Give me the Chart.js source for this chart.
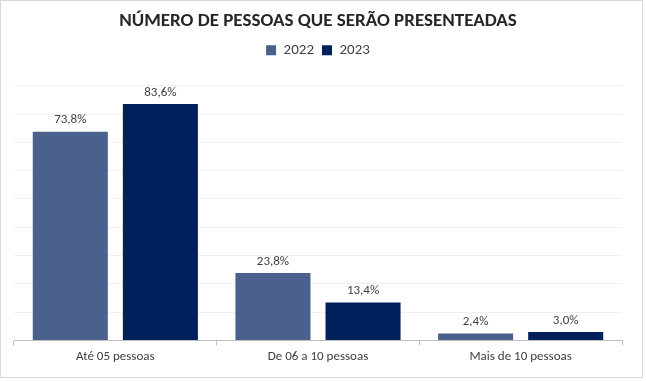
<!DOCTYPE html>
<html><head><meta charset="utf-8">
<script src="https://cdn.jsdelivr.net/npm/chart.js@4/dist/chart.umd.min.js"></script>
<style>
html,body{margin:0;padding:0;background:#fff;}
#wrap{position:absolute;left:0;top:0;width:641px;height:376px;border:1px solid #d9d9d9;background:#fff;}
canvas{display:block;}
</style></head>
<body>
<div id="wrap"><canvas id="c" width="641" height="376"></canvas></div>
<script>
const categories = ["Até 05 pessoas", "De 06 a 10 pessoas", "Mais de 10 pessoas"];
const seriesNames = ["2022", "2023"];
const values2022 = [73.8, 23.8, 2.4];
const values2023 = [83.6, 13.4, 3.0];
const yMin = 0, yMax = 90, yStep = 10;
const titleText = "NÚMERO DE PESSOAS QUE SERÃO PRESENTEADAS";

const FONT = "Carlito, Lato, 'Liberation Sans', sans-serif";
const fmt = v => v.toFixed(1).replace('.', ',') + '%';

const labelPlugin = {
  id: 'barLabels',
  afterDatasetsDraw(chart) {
    const ctx = chart.ctx;
    ctx.save();
    ctx.font = "13px " + FONT;
    ctx.fillStyle = "#404040";
    ctx.textAlign = "center";
    ctx.textBaseline = "bottom";
    chart.data.datasets.forEach((ds, i) => {
      const meta = chart.getDatasetMeta(i);
      meta.data.forEach((bar, j) => {
        ctx.fillText(fmt(ds.data[j]), bar.x, bar.y - 5);
      });
    });
    ctx.restore();
  }
};

const legendSpace = {
  id: 'legendSpace',
  beforeInit(chart) {
    const orig = chart.legend.fit;
    chart.legend.fit = function() { orig.bind(chart.legend)(); this.height += 18; };
  }
};

new Chart(document.getElementById('c'), {
  type: 'bar',
  data: {
    labels: categories,
    datasets: [
      { label: seriesNames[0], data: values2022, backgroundColor: "#4a618d", barPercentage: 0.833, categoryPercentage: 0.889 },
      { label: seriesNames[1], data: values2023, backgroundColor: "#00205c", barPercentage: 0.833, categoryPercentage: 0.889 }
    ]
  },
  options: {
    responsive: false,
    animation: false,
    events: [],
    layout: { padding: { left: 13, right: 20, top: 6, bottom: 8 } },
    plugins: {
      title: {
        display: true, text: titleText, color: "#262626",
        font: { family: FONT, size: 19, weight: 'bold' },
        padding: { top: 3, bottom: 2 }
      },
      legend: {
        display: true, position: 'top',
        labels: { boxWidth: 10, boxHeight: 10, color: "#404040", font: { family: FONT, size: 15 }, padding: 8 }
      },
      tooltip: { enabled: false }
    },
    scales: {
      x: {
        offset: true,
        grid: { display: true, drawOnChartArea: false, drawTicks: true, tickLength: 5, color: "#bfbfbf", offset: true },
        border: { display: true, color: "#bfbfbf" },
        ticks: { color: "#404040", font: { family: FONT, size: 13 }, padding: 4 }
      },
      y: {
        min: yMin, max: yMax,
        ticks: { display: false, stepSize: yStep },
        grid: { color: "#efefef", drawTicks: false },
        border: { display: false }
      }
    }
  },
  plugins: [labelPlugin, legendSpace]
});
</script>
</body></html>
